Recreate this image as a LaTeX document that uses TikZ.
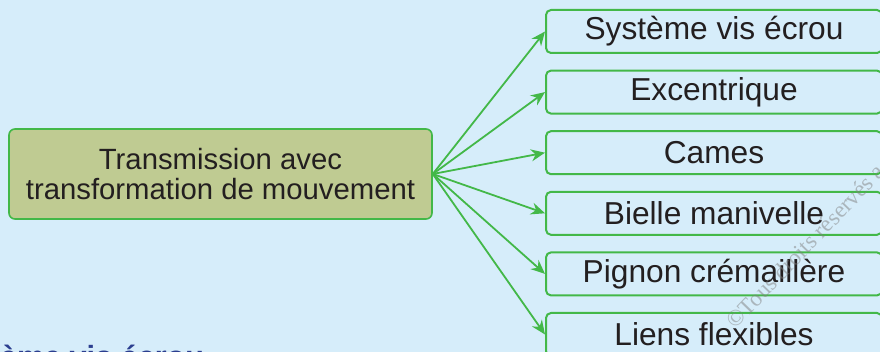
\documentclass[tikz,border=0pt]{standalone}
\usepackage{fontspec}
\setmainfont{Liberation Sans}
\newfontfamily\filigrane{Liberation Serif}
\usetikzlibrary{arrows.meta}

\definecolor{fond}{RGB}{214,237,250}
\definecolor{olive}{RGB}{191,203,146}
\definecolor{vert}{RGB}{67,184,72}
\definecolor{encre}{RGB}{35,31,32}
\definecolor{titre}{RGB}{43,62,143}

\tikzset{
  source/.style={draw=vert, line width=0.8pt, fill=olive, rounded corners=3pt,
    minimum width=211.5pt, minimum height=45pt, align=center, text=encre,
    font=\fontsize{14.65}{15}\selectfont},
  choix/.style={draw=vert, line width=1pt, rounded corners=2.5pt,
    minimum width=168pt, minimum height=21.5pt, inner sep=0pt, text=encre,
    font=\fontsize{15.85}{18}\selectfont},
  fleche/.style={vert, line width=0.9pt, -{Stealth[length=7pt,width=6pt]}}
}

\begin{document}
\begin{tikzpicture}[x=0.5pt,y=-0.5pt]
  %%%%% FOND %%%%%
  \useasboundingbox (0,0) rectangle (880,352);
  \clip (0,0) rectangle (880,352);
  \fill[fond] (0,0) rectangle (880,352);

  %%%%% BLOC DE DEPART %%%%%
  \node[source] (trans) at (220.5,174) {Transmission avec\\transformation de mouvement};

  %%%%% SOLUTIONS %%%%%
  \foreach \txt [count=\i] in {Système vis écrou, Excentrique, Cames,
      Bielle manivelle, Pignon crémaillère, Liens flexibles}
    \node[choix] (sol\i) at (714,{31.5+60.6*(\i-1)}) {\txt};

  \foreach \i in {1,...,6}
    \draw[fleche] (trans.east) -- (sol\i.west);

  %%%%% TITRE SUIVANT (coupe) %%%%%
  \node[anchor=base west, inner sep=0pt, text=titre,
    font=\bfseries\fontsize{15.3}{18}\selectfont] (suite) at (-65,368) {Système vis écrou};

  %%%%% FILIGRANE %%%%%
  \node[anchor=base west, inner sep=0pt, rotate=46, text=gray, opacity=0.5,
    font=\filigrane\fontsize{11.5}{13}\selectfont] (copyr) at (735,330) {©Tous droits réservés a};
\end{tikzpicture}
\end{document}
